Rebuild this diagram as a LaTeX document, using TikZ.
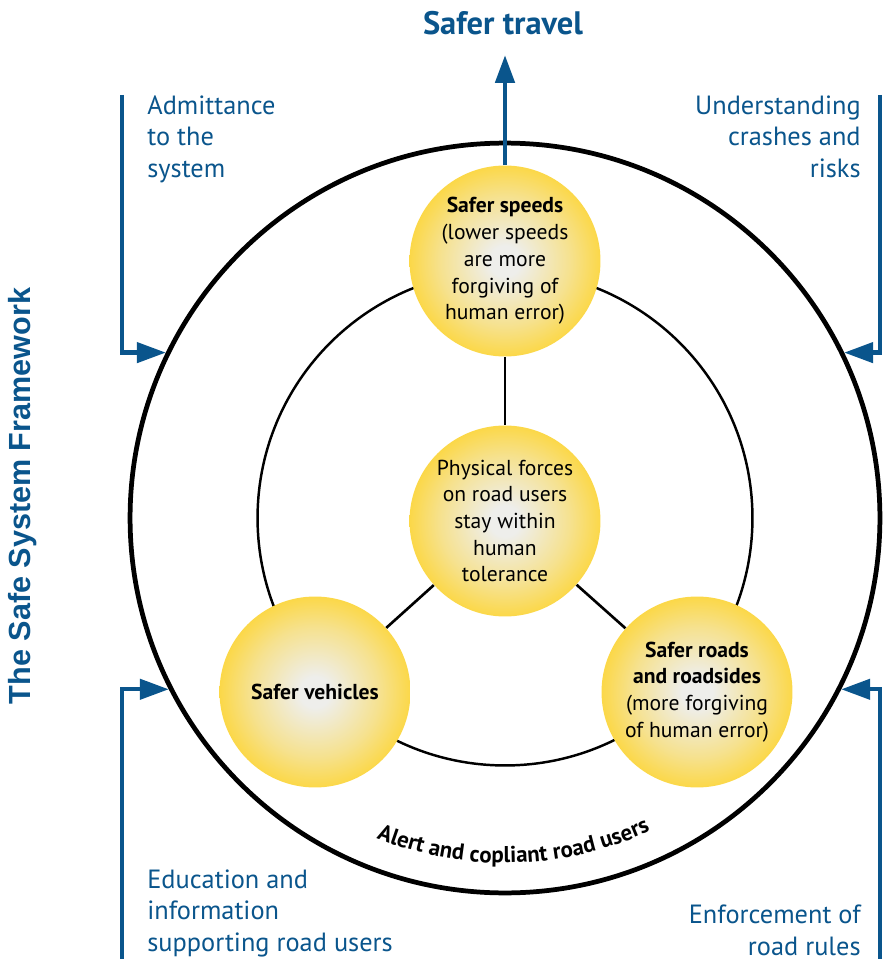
\documentclass[tikz,border=0pt]{standalone}
\usepackage{fontspec}
\setmainfont{PT Sans}
\newfontfamily\framefont{Liberation Sans}
\usetikzlibrary{arrows.meta,decorations.text,positioning}
\definecolor{sysblue}{RGB}{10,85,140}
\definecolor{ballgold}{RGB}{255,210,30}
\definecolor{ballcore}{RGB}{238,238,235}
\pgfdeclareradialshading{ballshade}{\pgfpointorigin}{color(0bp)=(ballcore); color(4bp)=(ballcore); color(17bp)=(ballgold!45!ballcore); color(27bp)=(ballgold!88!ballcore); color(33bp)=(ballgold); color(50bp)=(ballgold)}
\tikzset{ball/.style={circle, shading=ballshade, minimum size=3.82cm, inner sep=0pt, align=center, font=\fontsize{12.3}{15.2}\selectfont},
  ring/.style={draw, circle, inner sep=0pt},
  link/.style={line width=1.5pt},
  lbl/.style={text=sysblue, inner sep=0pt, font=\fontsize{15}{18.1}\selectfont},
  feed/.style={draw=sysblue, line width=2.5pt, line join=miter, -{Triangle[length=0.58cm, width=0.4cm]}}}

\begin{document}
\begin{tikzpicture}[x=0.02cm, y=-0.02cm]
\useasboundingbox (0,0) rectangle (884,959);
\node[ring, minimum size=15cm, line width=2.7pt] (outer) at (505,518) {};
\node[ring, minimum size=9.9cm, line width=1.4pt] (inner) at (505,518) {};

\node[ball] (speeds) at (505,261) {\textbf{Safer speeds}\\(lower speeds\\are more\\forgiving of\\human error)};
\node[ball] (forces) at (505,521) {Physical forces\\on road users\\stay within\\human\\tolerance};
\node[ball] (vehicles) at (315,692) {\textbf{Safer vehicles}};
\node[ball] (roads) at (697,692) {\textbf{Safer roads}\\\textbf{and roadsides}\\(more forgiving\\of human error)};
\draw[link] (speeds) -- (forces);
\draw[link] (forces) -- (vehicles);
\draw[link] (forces) -- (roads);

\path[decorate, decoration={text along path, text align=center, text={|\bfseries\fontsize{13}{15}\selectfont|Alert and copliant road users}}] (outer.center) ++(232:6.9cm) arc[start angle=232, end angle=311, radius=6.9cm];

\node[text=sysblue, font=\bfseries\fontsize{18.5}{22}\selectfont] (travel) at (503,23) {Safer travel};
\coordinate (traveltip) at (505,55);
\draw[feed, line width=2.8pt, -{Triangle[length=0.56cm, width=0.38cm]}] (speeds) -- (traveltip);

\node[text=sysblue, rotate=90, font=\framefont\bfseries\fontsize{17.4}{21}\selectfont] (frame) at (23,496) {The Safe System Framework};

\node[lbl, anchor=north west, align=left] (admit) at (147,95) {Admittance\\to the\\system};
\node[lbl, anchor=north east, align=right] (understand) at (861,95) {Understanding\\crashes and\\risks};
\node[lbl, anchor=north west, align=left] (educate) at (147,869) {Education and\\information\\supporting road users};
\node[lbl, anchor=north east, align=right] (enforce) at (861,905) {Enforcement of\\road rules};

\coordinate (admitend) at (122,95);
\coordinate (understandend) at (880,95);
\coordinate (educateend) at (122,959);
\coordinate (enforceend) at (880,959);
\draw[feed] (admitend) |- (outer.154);
\draw[feed] (understandend) |- (outer.26);
\draw[feed] (educateend) |- (outer.207);
\draw[feed] (enforceend) |- (outer.333);
\end{tikzpicture}
\end{document}
